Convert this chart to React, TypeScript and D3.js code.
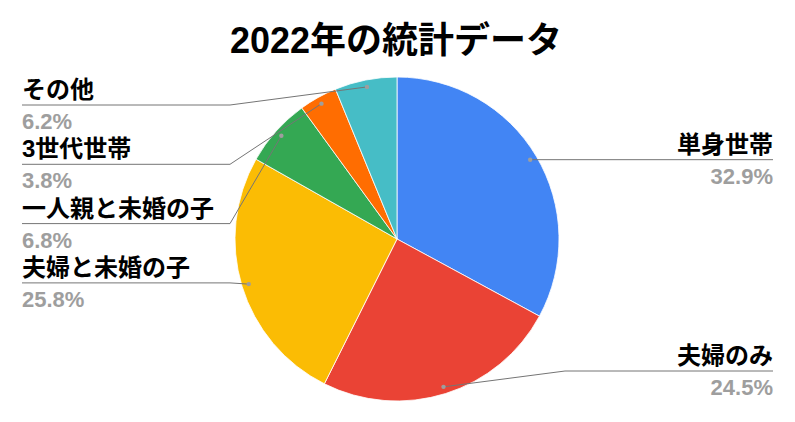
import React from "react";
import * as d3 from "d3";

const categories = ["単身世帯", "夫婦のみ", "夫婦と未婚の子", "一人親と未婚の子", "3世代世帯", "その他"];
const values = [32.9, 24.5, 25.8, 6.8, 3.8, 6.2];
const colors = ["#4285F4", "#EA4335", "#FBBC04", "#34A853", "#FF6D01", "#46BDC6"];
const title = "2022年の統計データ";

const W = 795;
const H = 422;
const CX = 397;
const CY = 239;
const R = 162;
const FONT = "'Liberation Sans', Arial, 'Noto Sans CJK JP', sans-serif";

export default function App() {
  const pie = d3.pie<number>().sort(null).value((d) => d)(values);
  const arc = d3.arc<d3.PieArcDatum<number>>().innerRadius(0).outerRadius(R);
  const total = d3.sum(values);

  const anchors = pie.map((p) => {
    const a = (p.startAngle + p.endAngle) / 2;
    const rr = R - 7;
    return { x: CX + rr * Math.sin(a), y: CY - rr * Math.cos(a), side: Math.sin(a) >= 0 ? "right" : "left" };
  });

  // label layout
  const leftIdx = pie.map((_, i) => i).filter((i) => anchors[i].side === "left").reverse();
  const rightIdx = pie.map((_, i) => i).filter((i) => anchors[i].side === "right");
  const labelY: number[] = [];
  leftIdx.forEach((i, k) => {
    labelY[i] = 105 + k * 59.3;
  });
  rightIdx.forEach((i) => {
    labelY[i] = Math.min(anchors[i].y, 371);
  });

  const LX = 22;
  const RX = 773;
  const bendL = 230;
  const bendR = 565;

  return (
    <div style={{ position: "absolute", left: 0, top: 0 }}>
      <svg width={W} height={H} style={{ display: "block", background: "#fff" }}>
        <text x={396} y={53} textAnchor="middle" fontFamily={FONT} fontWeight="bold" fontSize={36} fill="#000">
          {title}
        </text>
        <g transform={`translate(${CX},${CY})`}>
          {pie.map((p, i) => (
            <path key={i} d={arc(p) || ""} fill={colors[i]} stroke="#fff" strokeWidth={0.8} />
          ))}
        </g>
        {pie.map((p, i) => {
          const a = anchors[i];
          const ly = labelY[i];
          const pct = ((values[i] / total) * 100).toFixed(1) + "%";
          let path: string;
          if (a.side === "left") {
            if (Math.abs(a.y - ly) < 1) {
              path = `M${LX},${ly}L${a.x},${a.y}`;
            } else {
              path = `M${LX},${ly}L${bendL},${ly}L${a.x},${a.y}`;
            }
          } else {
            if (Math.abs(a.y - ly) < 1) {
              path = `M${RX},${ly}L${a.x},${a.y}`;
            } else {
              path = `M${RX},${ly}L${bendR},${ly}L${a.x},${a.y}`;
            }
          }
          const tx = a.side === "left" ? LX : RX;
          const anchor = a.side === "left" ? "start" : "end";
          return (
            <g key={i}>
              <path d={path} fill="none" stroke="#757575" strokeWidth={1} />
              <circle cx={a.x} cy={a.y} r={2.2} fill="#9e9e9e" />
              <text x={tx} y={ly - 7} textAnchor={anchor} fontFamily={FONT} fontWeight="bold" fontSize={24} fill="#000">
                {categories[i]}
              </text>
              <text x={tx} y={ly + 24} textAnchor={anchor} fontFamily={FONT} fontWeight="bold" fontSize={22} fill="#9e9e9e">
                {pct}
              </text>
            </g>
          );
        })}
      </svg>
    </div>
  );
}
